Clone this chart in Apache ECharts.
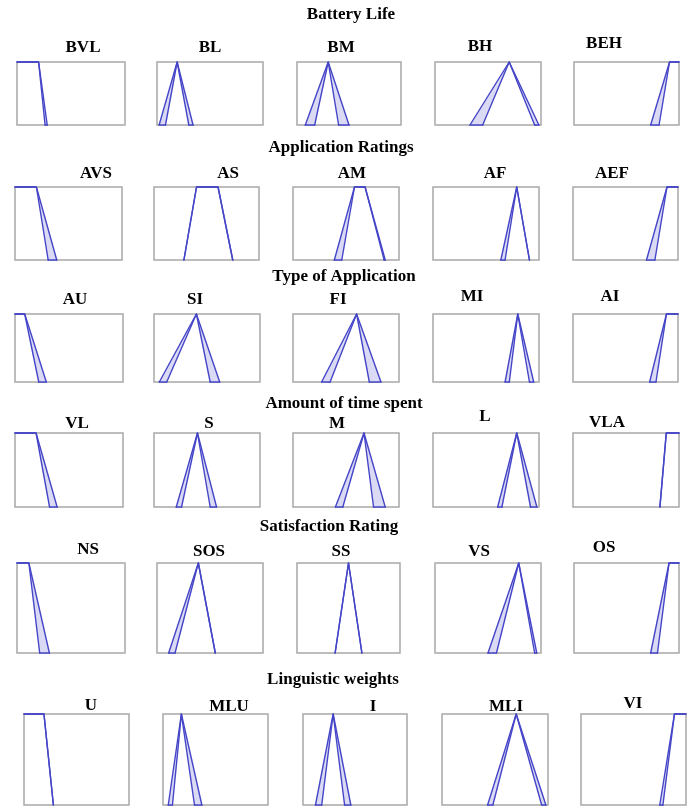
<!DOCTYPE html>
<html>
<head>
<meta charset="utf-8">
<script src="https://cdn.jsdelivr.net/npm/echarts@6/dist/echarts.min.js"></script>
<style>
html, body { margin: 0; padding: 0; background: #fff; }
#chart { width: 696px; height: 808px; }
</style>
</head>
<body>
<div id="chart"></div>
<script>
// ---- data ----
const groupTitles = ["Battery Life", "Application Ratings", "Type of Application",
  "Amount of time spent", "Satisfaction Rating", "Linguistic weights"];

const termNames = [
  ["BVL", "BL", "BM", "BH", "BEH"],
  ["AVS", "AS", "AM", "AF", "AEF"],
  ["AU", "SI", "FI", "MI", "AI"],
  ["VL", "S", "M", "L", "VLA"],
  ["NS", "SOS", "SS", "VS", "OS"],
  ["U", "MLU", "I", "MLI", "VI"]
];

// each term: [outer left foot, inner left foot, peak start, peak end, inner right foot, outer right foot]
const batteryLife = [
  [0, 0, 0, 0.20, 0.26, 0.28],
  [0.02, 0.08, 0.19, 0.19, 0.30, 0.34],
  [0.08, 0.17, 0.30, 0.30, 0.40, 0.50],
  [0.33, 0.45, 0.70, 0.70, 0.94, 0.98],
  [0.73, 0.81, 0.91, 1, 1, 1]
];
const applicationRatings = [
  [0, 0, 0, 0.20, 0.31, 0.39],
  [0.285, 0.285, 0.405, 0.61, 0.75, 0.75],
  [0.39, 0.46, 0.58, 0.68, 0.86, 0.87],
  [0.64, 0.68, 0.79, 0.79, 0.91, 0.91],
  [0.70, 0.78, 0.895, 1, 1, 1]
];
const typeOfApplication = [
  [0, 0, 0, 0.09, 0.22, 0.29],
  [0.05, 0.12, 0.40, 0.40, 0.53, 0.62],
  [0.27, 0.35, 0.60, 0.60, 0.72, 0.83],
  [0.68, 0.72, 0.80, 0.80, 0.91, 0.95],
  [0.73, 0.79, 0.89, 1, 1, 1]
];
const timeSpent = [
  [0, 0, 0, 0.195, 0.32, 0.39],
  [0.21, 0.26, 0.41, 0.41, 0.53, 0.59],
  [0.40, 0.47, 0.67, 0.67, 0.76, 0.87],
  [0.61, 0.65, 0.79, 0.79, 0.92, 0.98],
  [0.82, 0.82, 0.88, 1, 1, 1]
];
const satisfactionRating = [
  [0, 0, 0, 0.11, 0.21, 0.30],
  [0.11, 0.17, 0.39, 0.39, 0.55, 0.55],
  [0.37, 0.37, 0.50, 0.50, 0.63, 0.63],
  [0.50, 0.58, 0.79, 0.79, 0.94, 0.96],
  [0.73, 0.795, 0.905, 1, 1, 1]
];
const linguisticWeights = [
  [0, 0, 0, 0.19, 0.28, 0.28],
  [0.05, 0.09, 0.175, 0.175, 0.30, 0.37],
  [0.12, 0.18, 0.29, 0.29, 0.40, 0.46],
  [0.43, 0.48, 0.70, 0.70, 0.94, 0.98],
  [0.75, 0.78, 0.89, 1, 1, 1]
];
const groupTerms = [batteryLife, applicationRatings, typeOfApplication,
  timeSpent, satisfactionRating, linguisticWeights];

// ---- layout (px) ----
const rowTop = [62, 187, 314, 433, 563, 714];
const rowHeight = [63, 73, 68, 74, 90, 91];
const boxLeft = [
  [17, 157, 297, 435, 574],
  [15, 154, 293, 433, 573],
  [15, 154, 293, 433, 573],
  [15, 154, 293, 433, 573],
  [17, 157, 297, 435, 574],
  [24, 163, 303, 442, 581]
];
const boxWidth = [
  [108, 106, 104, 106, 105],
  [107, 105, 106, 106, 105],
  [108, 106, 106, 106, 105],
  [108, 106, 106, 106, 106],
  [108, 106, 103, 106, 105],
  [105, 105, 104, 106, 105]
];
const titleX = [351, 341, 344, 344, 329, 333];
const titleY = [15, 148, 277, 404, 527, 680];
const labelX = [
  [83, 210, 341, 480, 604],
  [96, 228, 352, 495, 612],
  [75, 195, 338, 472, 610],
  [77, 209, 337, 485, 607],
  [88, 209, 341, 479, 604],
  [91, 229, 373, 506, 633]
];
const labelY = [
  [48, 48, 48, 47, 44],
  [174, 174, 174, 174, 174],
  [300, 300, 300, 297, 297],
  [424, 424, 424, 417, 423],
  [550, 552, 552, 552, 548],
  [706, 707, 707, 707, 704]
];

const lineColor = "#4545c8";
const fillColor = "#dadaf4";
const fontStyle = 'bold 17px "Liberation Serif", "Times New Roman", serif';

function renderTerm(params, api) {
  const oL = api.coord([api.value(0), 0]);
  const iL = api.coord([api.value(1), 0]);
  const pS = api.coord([api.value(2), 1]);
  const pE = api.coord([api.value(3), 1]);
  const iR = api.coord([api.value(4), 0]);
  const oR = api.coord([api.value(5), 0]);
  const fill = { fill: fillColor, stroke: null };
  const line = { fill: null, stroke: lineColor, lineWidth: 1.4, lineJoin: "round", lineCap: "round" };
  // shoulder terms: leave the vertical box edge gray
  const leftShoulder = api.value(1) === api.value(2);
  const rightShoulder = api.value(3) === api.value(4);
  const outer = [], inner = [];
  if (!leftShoulder) { outer.push(oL); inner.push(iL); }
  outer.push(pS, pE); inner.push(pS, pE);
  if (!rightShoulder) { outer.push(oR); inner.push(iR); }
  return {
    type: "group",
    children: [
      { type: "polygon", shape: { points: [oL, pS, iL] }, style: fill },
      { type: "polygon", shape: { points: [iR, pE, oR] }, style: fill },
      { type: "polyline", shape: { points: outer }, style: line },
      { type: "polyline", shape: { points: inner }, style: line },
      { type: "polyline", shape: { points: [oL, iL] }, style: line },
      { type: "polyline", shape: { points: [iR, oR] }, style: line }
    ]
  };
}

const grids = [], xAxes = [], yAxes = [], series = [], texts = [];
groupTerms.forEach((terms, r) => {
  texts.push({ text: groupTitles[r], x: titleX[r], y: titleY[r] });
  terms.forEach((term, c) => {
    const k = grids.length;
    grids.push({
      left: boxLeft[r][c], top: rowTop[r], width: boxWidth[r][c], height: rowHeight[r],
      show: true, borderColor: "#a8a8a8", borderWidth: 1.5, backgroundColor: "transparent"
    });
    xAxes.push({ gridIndex: k, type: "value", min: 0, max: 1, show: false });
    yAxes.push({ gridIndex: k, type: "value", min: 0, max: 1, show: false });
    series.push({
      type: "custom", coordinateSystem: "cartesian2d",
      xAxisIndex: k, yAxisIndex: k, silent: true, clip: false,
      renderItem: renderTerm, data: [term]
    });
    texts.push({ text: termNames[r][c], x: labelX[r][c], y: labelY[r][c] });
  });
});

const chart = echarts.init(document.getElementById("chart"));
chart.setOption({
  animation: false,
  backgroundColor: "#fff",
  grid: grids,
  xAxis: xAxes,
  yAxis: yAxes,
  series: series,
  graphic: texts.map(t => ({
    type: "text", x: t.x, y: t.y, silent: true,
    style: {
      text: t.text, font: fontStyle, fill: "#000",
      align: "center", verticalAlign: "middle",
      textAlign: "center", textVerticalAlign: "middle"
    }
  }))
});
</script>
</body>
</html>
